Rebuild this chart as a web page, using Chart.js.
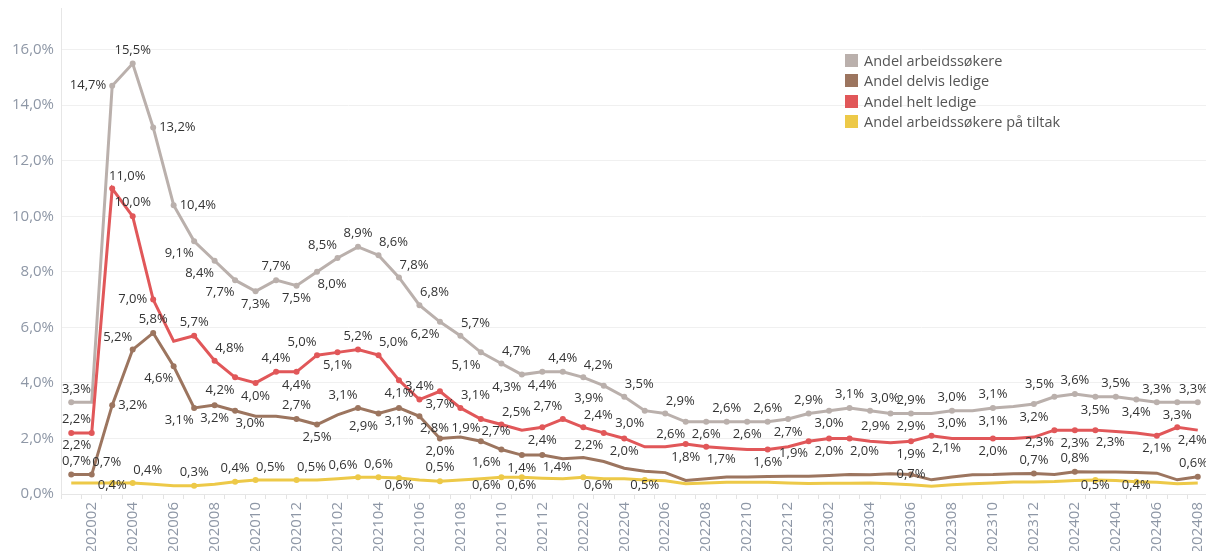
<!DOCTYPE html>
<html>
<head>
<meta charset="utf-8">
<script src="https://cdn.jsdelivr.net/npm/chart.js@4/dist/chart.umd.min.js"></script>
<style>
    html, body { margin: 0; padding: 0; background: #fff; overflow: hidden; width: 1206px; height: 551px; }
    #wrap { position: absolute; left: 0; top: 0; width: 1211px; height: 560px; }
    #legend { position: absolute; left: 845px; top: 50px; font: 14.5px 'Open Sans', sans-serif; color: #555; }
    #legend div { height: 20.5px; display: flex; align-items: center; white-space: nowrap; }
    #legend span { display: inline-block; width: 13px; height: 13px; margin-right: 6px; }
</style>
</head>
<body>
<div id="wrap"><canvas id="ledighetChart"></canvas></div>
<div id="legend"></div>
<script>
// Months (x-axis categories)
const months = [
    '202001','202002','202003','202004','202005','202006','202007','202008','202009','202010','202011','202012',
    '202101','202102','202103','202104','202105','202106','202107','202108','202109','202110','202111','202112',
    '202201','202202','202203','202204','202205','202206','202207','202208','202209','202210','202211','202212',
    '202301','202302','202303','202304','202305','202306','202307','202308','202309','202310','202311','202312',
    '202401','202402','202403','202404','202405','202406','202407','202408'
];

// Andel arbeidssøkere (%)
const arbeidssokere = [
    3.3, 3.3, 14.7, 15.5, 13.2, 10.4, 9.1, 8.4, 7.7, 7.3, 7.7, 7.5,
    8.0, 8.5, 8.9, 8.6, 7.8, 6.8, 6.2, 5.7, 5.1, 4.7, 4.3, 4.4,
    4.4, 4.2, 3.9, 3.5, 3.0, 2.9, 2.6, 2.6, 2.6, 2.6, 2.6, 2.7,
    2.9, 3.0, 3.1, 3.0, 2.9, 2.9, 2.9, 3.0, 3.0, 3.1, 3.15, 3.24,
    3.5, 3.6, 3.5, 3.5, 3.4, 3.3, 3.3, 3.3
];

// Andel delvis ledige (%)
const delvisLedige = [
    0.7, 0.7, 3.2, 5.2, 5.8, 4.6, 3.1, 3.2, 3.0, 2.8, 2.8, 2.7,
    2.5, 2.85, 3.1, 2.9, 3.1, 2.8, 2.0, 2.05, 1.9, 1.6, 1.4, 1.4,
    1.27, 1.31, 1.17, 0.93, 0.82, 0.77, 0.49, 0.55, 0.61, 0.61, 0.63, 0.64,
    0.64, 0.67, 0.7, 0.69, 0.73, 0.7, 0.51, 0.61, 0.69, 0.7, 0.73, 0.74,
    0.7, 0.8, 0.79, 0.79, 0.77, 0.75, 0.51, 0.62
];

// Andel helt ledige (%)
const heltLedige = [
    2.2, 2.2, 11.0, 10.0, 7.0, 5.5, 5.7, 4.8, 4.2, 4.0, 4.4, 4.4,
    5.0, 5.1, 5.2, 5.0, 4.1, 3.4, 3.7, 3.1, 2.7, 2.5, 2.3, 2.4,
    2.7, 2.4, 2.2, 2.0, 1.7, 1.7, 1.8, 1.7, 1.65, 1.6, 1.6, 1.7,
    1.9, 2.0, 2.0, 1.9, 1.85, 1.9, 2.1, 2.0, 2.0, 2.0, 2.0, 2.05,
    2.3, 2.3, 2.3, 2.25, 2.2, 2.1, 2.4, 2.3
];

// Andel arbeidssøkere på tiltak (%)
const paTiltak = [
    0.4, 0.4, 0.4, 0.4, 0.35, 0.3, 0.3, 0.35, 0.44, 0.5, 0.5, 0.5,
    0.5, 0.55, 0.6, 0.6, 0.58, 0.5, 0.46, 0.5, 0.55, 0.6, 0.6, 0.57,
    0.55, 0.6, 0.55, 0.55, 0.5, 0.48, 0.37, 0.4, 0.42, 0.42, 0.42, 0.4,
    0.38, 0.39, 0.39, 0.4, 0.37, 0.33, 0.28, 0.33, 0.37, 0.4, 0.43, 0.43,
    0.45, 0.49, 0.5, 0.49, 0.44, 0.42, 0.37, 0.4
];

// Y-axis ticks (%)
const yTicks = [0, 2, 4, 6, 8, 10, 12, 14, 16];

// Where each mark label sits relative to its point ('' = no label)
const arbeidssokereLabels = [
    'T','','L','T','R','R','BL','BL','BL','B','T','B',
    'BR','TL','T','TR','TR','TR','BL','TR','BL','TR','BL','B',
    'T','TR','BL','TR','BL','TR','BL','B','T','B','T','B',
    'T','B','T','TR','BL','TB','','TB','','TB','','B',
    'TL','T','B','T','B','T','B','T'
];
const delvisLabels = [
    'T','TR','R','TL','T','BL','BL','B','BR','','','T',
    'B','','TL','BL','B','BR','B','','TL','BL','B','BR',
    '','','','','','','','','','','','',
    '','','','','','C','','','','','','T',
    '','T','','','','','','T'
];
const heltLabels = [
    'T','BL','TR','T','L','','T','TR','BL','B','T','B',
    'TL','B','T','TR','B','T','B','TR','BR','TR','','B',
    'TL','TR','BL','B','','','B','BR','','','B','',
    'BL','B','BR','','','B','BR','','','B','','',
    'BL','B','BR','','','B','BR',''
];
const tiltakLabels = [
    '','','B','TR','','','T','','T','TR','','TR',
    '','','TL','T','B','','T','','','BL','B','',
    '','BR','','','B','','','','','','','',
    '','','','','','','','','','','','',
    '','','B','','B','','',''
];

const colors = {
    arbeidssokere: '#bab0ac',
    delvis: '#9c755f',
    helt: '#e15759',
    tiltak: '#edc948'
};

// Format a value the Norwegian way, e.g. 15,5%
function fmt(v) {
    return v.toFixed(1).replace('.', ',') + '%';
}

// Draws the value labels next to the points
const markLabels = {
    id: 'markLabels',
    afterDatasetsDraw(chart) {
        const ctx = chart.ctx;
        const area = chart.chartArea;
        ctx.save();
        ctx.font = '13px "Open Sans", sans-serif';
        ctx.fillStyle = '#333';
        ctx.textAlign = 'center';
        ctx.textBaseline = 'middle';
        chart.data.datasets.forEach((ds, di) => {
            const meta = chart.getDatasetMeta(di);
            ds.labelPos.forEach((code, i) => {
                if (!code) return;
                const pt = meta.data[i];
                const text = fmt(ds.data[i]);
                const w = ctx.measureText(text).width;
                const spots = code === 'TB' ? ['T', 'B'] : [code];
                spots.forEach(s => {
                    let x = pt.x, y = pt.y;
                    if (s === 'T') { y -= 13.5; }
                    else if (s === 'B') { y += 13; }
                    else if (s === 'TR') { x += 15; y -= 12.5; }
                    else if (s === 'TL') { x -= 15; y -= 12.5; }
                    else if (s === 'BR') { x += 15; y += 12.5; }
                    else if (s === 'BL') { x -= 15; y += 12.5; }
                    else if (s === 'L') { x -= 6 + w / 2; }
                    else if (s === 'R') { x += 6 + w / 2; }
                    // keep labels inside the plot like Tableau does
                    x = Math.max(area.left + w / 2 + 1, Math.min(area.right - w / 2, x));
                    y = Math.min(area.bottom - 9, y);
                    ctx.fillText(text, x, y);
                });
            });
        });
        ctx.restore();
    }
};

function series(label, data, color, labelPos, order) {
    return {
        label: label,
        data: data,
        labelPos: labelPos,
        borderColor: color,
        backgroundColor: color,
        borderWidth: 3,
        tension: 0,
        order: order,
        pointRadius: ctx => labelPos[ctx.dataIndex] ? 3 : 0,
        pointBorderWidth: 0,
        pointHoverRadius: 0
    };
}

const ctx = document.getElementById('ledighetChart').getContext('2d');
const chart = new Chart(ctx, {
    type: 'line',
    data: {
        labels: months,
        datasets: [
            series('Andel arbeidssøkere', arbeidssokere, colors.arbeidssokere, arbeidssokereLabels, 4),
            series('Andel delvis ledige', delvisLedige, colors.delvis, delvisLabels, 3),
            series('Andel helt ledige', heltLedige, colors.helt, heltLabels, 2),
            series('Andel arbeidssøkere på tiltak', paTiltak, colors.tiltak, tiltakLabels, 1)
        ]
    },
    options: {
        responsive: true,
        maintainAspectRatio: false,
        animation: false,
        layout: { padding: { top: 8, right: 0, left: 0, bottom: 0 } },
        plugins: {
            legend: { display: false },
            tooltip: { enabled: false }
        },
        scales: {
            x: {
                offset: true,
                grid: { offset: true, drawOnChartArea: false, drawTicks: true, tickLength: 5, color: '#e3e3e3' },
                border: { color: '#e6e6e6' },
                ticks: {
                    autoSkip: false,
                    minRotation: 90,
                    maxRotation: 90,
                    padding: 3,
                    color: '#8e97a6',
                    font: { family: 'Open Sans', size: 15 },
                    callback: function(value, index) {
                        return index % 2 === 1 ? months[index] : '';
                    }
                },
                afterFit: scale => {
                    scale.height = 66;
                    scale.paddingLeft = 0;
                    scale.paddingRight = 0;
                }
            },
            y: {
                min: 0,
                max: 17.5,
                grid: { color: '#f0f0f0', drawTicks: false },
                border: { color: '#e6e6e6' },
                ticks: {
                    stepSize: 2,
                    padding: 7,
                    color: '#8e97a6',
                    font: { family: 'Open Sans', size: 15 },
                    callback: v => v.toFixed(1).replace('.', ',') + '%'
                },
                afterBuildTicks: scale => { scale.ticks = yTicks.map(v => ({ value: v })); },
                afterFit: scale => {
                    scale.width = 61;
                    scale.paddingTop = 0;
                    scale.paddingBottom = 0;
                }
            }
        }
    },
    plugins: [markLabels]
});

// HTML legend in the top-right corner
const legendEl = document.getElementById('legend');
chart.data.datasets.forEach(ds => {
    const row = document.createElement('div');
    const box = document.createElement('span');
    box.style.background = ds.borderColor;
    row.appendChild(box);
    row.appendChild(document.createTextNode(ds.label));
    legendEl.appendChild(row);
});
</script>
</body>
</html>
